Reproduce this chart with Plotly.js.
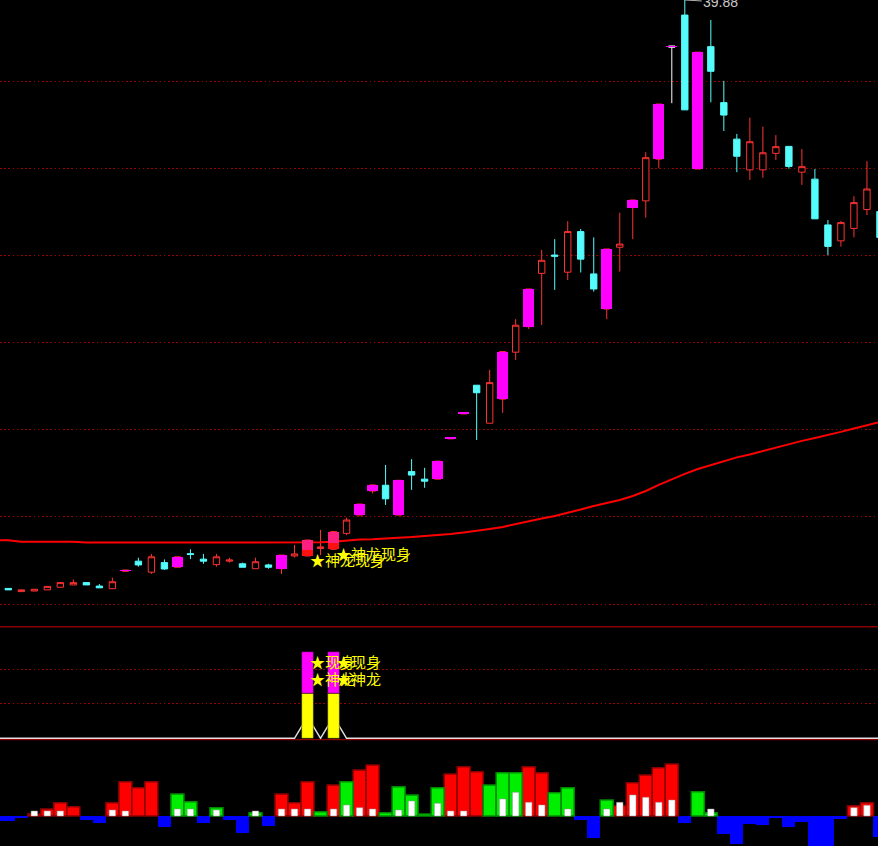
<!DOCTYPE html>
<html>
<head>
<meta charset="utf-8">
<script src="https://cdn.plot.ly/plotly-3.0.1.min.js"></script>
<style>html,body{margin:0;padding:0;background:#000;}#chart{width:878px;height:846px;}</style>
</head>
<body>
<div id="chart"></div>
<script>
// ---- candle data (index, kind, OHLC) ----
const idx = [-1,0,1,2,3,4,5,6,7,8,9,10,11,12,13,14,15,16,17,18,19,20,21,22,23,24,25,26,27,28,29,30,31,32,33,34,35,36,37,38,39,40,41,42,43,44,45,46,47,48,49,50,51,52,53,54,55,56,57,58,59,60,61,62,63,64,65,66,67];
const kind = ['c','c','r','r','r','r','r','c','c','r','m','c','r','c','m','c','c','r','r','c','r','c','m','r','p','r','p','r','m','m','c','m','c','c','m','m','m','c','r','m','r','m','r','c','r','c','c','m','r','m','r','m','w','c','m','c','c','c','r','r','r','c','r','c','c','r','r','r','c'];
const open  = [19.63,19.58,19.47,19.49,19.53,19.62,19.70,19.78,19.66,19.57,20.17,20.52,20.14,20.47,20.31,20.78,20.59,20.40,20.52,20.43,20.26,20.39,20.26,20.70,20.70,20.96,20.93,21.48,22.11,22.94,23.14,22.11,23.61,23.35,23.35,24.74,25.60,26.59,25.28,26.11,27.73,28.61,30.45,31.08,30.49,31.89,30.43,29.22,31.35,32.72,32.95,34.39,38.25,39.36,34.05,38.27,36.34,35.08,34.02,34.02,34.59,34.83,33.94,33.70,32.12,31.57,32.00,32.65,32.58];
const high  = [19.65,19.58,19.53,19.55,19.65,19.78,19.89,19.78,19.73,19.95,20.21,20.64,20.77,20.58,20.67,20.93,20.77,20.77,20.64,20.47,20.64,20.43,20.73,21.08,21.25,21.60,21.54,22.02,22.49,23.15,23.84,23.31,24.04,23.74,23.97,24.78,25.64,26.59,27.12,27.75,28.87,29.91,31.26,31.63,32.25,31.98,31.69,31.29,32.54,32.98,34.63,36.29,38.29,39.88,38.08,39.19,37.09,35.26,35.82,35.51,35.22,34.83,34.74,34.05,32.29,32.26,33.11,34.32,32.81];
const low   = [19.56,19.53,19.47,19.49,19.53,19.62,19.70,19.70,19.60,19.57,20.17,20.33,20.08,20.22,20.31,20.59,20.43,20.33,20.47,20.31,20.26,20.26,20.08,20.65,20.70,20.73,20.93,21.42,22.11,22.86,22.46,22.11,22.98,23.05,23.35,24.74,25.60,24.70,25.28,25.64,27.46,28.53,28.67,29.88,30.22,30.48,29.82,28.87,30.51,31.63,32.37,34.09,36.32,36.09,34.05,36.35,35.36,33.94,33.67,33.75,34.36,34.06,33.50,32.33,31.08,31.37,31.69,32.46,31.69];
const close = [19.58,19.53,19.53,19.55,19.65,19.78,19.78,19.70,19.60,19.81,20.21,20.39,20.67,20.25,20.67,20.75,20.52,20.67,20.56,20.31,20.50,20.31,20.73,20.77,21.25,21.01,21.54,21.94,22.49,23.15,22.67,23.31,23.49,23.28,23.97,24.78,25.64,26.33,26.68,27.75,28.66,29.91,30.90,31.04,31.89,30.94,29.91,31.29,31.46,32.98,34.44,36.29,38.29,36.09,38.08,37.42,35.91,34.49,34.99,34.61,34.82,34.14,34.13,32.33,31.38,32.20,32.89,33.36,31.69];
const splitIdx = [23,25];
const splitVal = [20.91,21.14];
const ma = [21.24,21.24,21.19,21.19,21.19,21.19,21.19,21.16,21.16,21.16,21.16,21.16,21.16,21.16,21.16,21.16,21.16,21.16,21.16,21.16,21.16,21.16,21.16,21.16,21.16,21.17,21.19,21.23,21.27,21.28,21.30,21.34,21.35,21.39,21.42,21.46,21.51,21.56,21.63,21.70,21.80,21.91,21.99,22.08,22.18,22.30,22.42,22.53,22.63,22.77,22.94,23.15,23.35,23.53,23.70,23.84,23.98,24.10,24.20,24.32,24.44,24.56,24.67,24.77,24.87,24.98,25.10,25.22,25.32];
const gridMain = [19.04,22.06,25.06,28.05,31.07,34.05,37.06];
const topLabel = '39.88';
const signalText = '★神龙现身';

// ---- middle panel ----
const sigIdx = [23,25];
const sigYellow = [52,52];
const sigMagenta = [48,48];
const sigLine = [0,0,0,0,0,0,0,0,0,0,0,0,0,0,0,0,0,0,0,0,0,0,0,0,25,0,25,0,0,0,0,0,0,0,0,0,0,0,0,0,0,0,0,0,0,0,0,0,0,0,0,0,0,0,0,0,0,0,0,0,0,0,0,0,0,0,0,0,0];
const gridMid = [40,80];
const midText1 = '★现身';
const midText2 = '★神龙';

// ---- bottom panel ----
const volVal = [-5,-5,-1.7,2,7,13.3,9.3,-4,-6.7,13.3,34.3,28.3,34.3,-11.3,22,14.3,-7.3,8.3,-4,-16.7,3.3,-10,22,13.3,34.3,4.3,31,34.3,46,51,3.3,29.3,21,2,28.3,42,49.3,44.3,31,43.3,43.3,49.3,43.3,23.3,28.3,-4,-21.7,16,10.3,33.3,41,48.3,52,-6.7,24.3,3.3,-18,-28,-8,-9.3,-1.7,-10.7,-5.7,-30,-30,-3.3,10.3,13.3,-20.7];
const volKind = ['b','b','b','r','r','r','r','b','b','r','r','r','r','b','g','g','b','g','b','b','g','b','r','r','r','g','r','g','r','r','g','g','g','g','g','r','r','r','g','g','g','r','r','g','g','b','b','g','r','r','r','r','r','b','g','g','b','b','b','b','b','b','b','b','b','b','r','r','b'];
const volWhite = [0,0,0,5,5,5,0,0,0,6,5,0,0,0,7,7,0,6,0,0,5,0,7,7,7,0,7,11,8.3,7,0,6,15,0,12.7,5,5,0,0,17,23.7,13.7,11,0,7,0,0,7,13.7,21,18.7,13.7,16,0,0,7,0,0,0,0,0,0,0,0,0,0,8.3,10.7,0];

// ---- styles ----
const RED = '#ff3232', CYAN = '#54fcfc', MAG = '#ff00ff', PINK = '#ff1f80';
const H = 846;
const pf = px => 1 - px / H;

function sel(kinds) {
  const out = {x:[],o:[],h:[],l:[],c:[]};
  idx.forEach((j,i) => { if (kinds.includes(kind[i])) { out.x.push(j); out.o.push(open[i]); out.h.push(high[i]); out.l.push(low[i]); out.c.push(close[i]); } });
  return out;
}
function candle(kinds, line, fill) {
  const s = sel(kinds);
  return {type:'candlestick', x:s.x, open:s.o, high:s.h, low:s.l, close:s.c, xaxis:'x', yaxis:'y',
    increasing:{line:{color:line,width:1}, fillcolor:fill}, decreasing:{line:{color:line,width:1}, fillcolor:fill},
    hoverinfo:'skip', showlegend:false};
}
const traces = [];
traces.push(candle(['r','m','p'], RED, '#000000'));
traces.push(candle(['c'], CYAN, CYAN));
traces.push(candle(['w'], '#ffffff', '#000000'));
traces.push({type:'scatter', mode:'lines', x:idx, y:ma, xaxis:'x', yaxis:'y', line:{color:'#ff0000', width:2}, hoverinfo:'skip'});

// magenta bodies on overlay axis
const mb = {x:[],base:[],y:[]};
idx.forEach((j,i) => { if (kind[i]==='m' || kind[i]==='w') { const lo=Math.min(open[i],close[i]); mb.x.push(j); mb.base.push(lo); mb.y.push(Math.max(Math.abs(close[i]-open[i]),0.05)); } });
traces.push({type:'bar', x:mb.x, base:mb.base, y:mb.y, width:0.85, xaxis:'x', yaxis:'y5', marker:{color:MAG, line:{width:0}}, hoverinfo:'skip'});
const pk = {x:[],b1:[],h1:[],b2:[],h2:[]};
splitIdx.forEach((j,k) => { const i = idx.indexOf(j); pk.x.push(j); pk.b1.push(open[i]); pk.h1.push(splitVal[k]-open[i]); pk.b2.push(splitVal[k]); pk.h2.push(close[i]-splitVal[k]); });
traces.push({type:'bar', x:pk.x, base:pk.b1, y:pk.h1, width:0.85, xaxis:'x', yaxis:'y5', marker:{color:'#ff1010', line:{width:0}}, hoverinfo:'skip'});
traces.push({type:'bar', x:pk.x, base:pk.b2, y:pk.h2, width:0.85, xaxis:'x', yaxis:'y5', marker:{color:PINK, line:{width:0}}, hoverinfo:'skip'});

// middle panel
traces.push({type:'scatter', mode:'lines', x:idx, y:sigLine, xaxis:'x', yaxis:'y2', line:{color:'#e0e0e0', width:1.5}, hoverinfo:'skip'});
traces.push({type:'bar', x:sigIdx, y:sigYellow, base:0, width:0.9, xaxis:'x', yaxis:'y4', marker:{color:'#ffff00', line:{color:'#202000', width:0.5}}, hoverinfo:'skip'});
traces.push({type:'bar', x:sigIdx, y:sigMagenta, base:sigYellow, width:0.9, xaxis:'x', yaxis:'y4', marker:{color:MAG, line:{color:'#200020', width:0.5}}, hoverinfo:'skip'});

// bottom panel
function volSel(k) { const x=[],y=[]; idx.forEach((j,i)=>{ if(volKind[i]===k){x.push(j);y.push(volVal[i]);} }); return {x,y}; }
const vb = volSel('b'), vr = volSel('r'), vg = volSel('g');
traces.push({type:'bar', x:vb.x, y:vb.y, width:1.0, xaxis:'x', yaxis:'y3', marker:{color:'#0000ff', line:{width:0}}, hoverinfo:'skip'});
traces.push({type:'bar', x:vr.x, y:vr.y, width:1.0, xaxis:'x', yaxis:'y3', marker:{color:'#ff0000', line:{color:'#8a0000', width:1.5}}, hoverinfo:'skip'});
traces.push({type:'bar', x:vg.x, y:vg.y, width:1.0, xaxis:'x', yaxis:'y3', marker:{color:'#00ee00', line:{color:'#008a00', width:1.5}}, hoverinfo:'skip'});
const vw = {x:[],y:[]}; idx.forEach((j,i)=>{ if(volWhite[i]>0){vw.x.push(j);vw.y.push(volWhite[i]);} });
traces.push({type:'bar', x:vw.x, y:vw.y, width:0.5, xaxis:'x', yaxis:'y3', marker:{color:'#ffffff', line:{color:'#909090', width:0.5}}, hoverinfo:'skip'});

const annotations = [];
sigIdx.forEach(j => {
  const i = idx.indexOf(j);
  annotations.push({x:j, y:low[i], xref:'x', yref:'y', xanchor:'left', yanchor:'middle', yshift:-4, showarrow:false, text:signalText, font:{color:'#ffff00', size:15, family:'Noto Sans CJK SC'}});
  annotations.push({x:j, y:89, xref:'x', yref:'y2', xanchor:'left', yanchor:'middle', showarrow:false, text:midText1, font:{color:'#ffff00', size:15, family:'Noto Sans CJK SC'}});
  annotations.push({x:j, y:68.5, xref:'x', yref:'y2', xanchor:'left', yanchor:'middle', showarrow:false, text:midText2, font:{color:'#ffff00', size:15, family:'Noto Sans CJK SC'}});
});
const topI = high.indexOf(Math.max(...high));
annotations.push({x:idx[topI], y:high[topI], xref:'x', yref:'y', text:topLabel, showarrow:true, arrowhead:0, arrowwidth:1, arrowcolor:'#b0b0b0', ax:36, ay:2, font:{color:'#c8c8c8', size:14, family:'Liberation Sans'}});

const dotted = '1.5px,2.7px';
const layout = {
  width:878, height:846, margin:{l:0,r:0,t:0,b:0,pad:0},
  paper_bgcolor:'#000', plot_bgcolor:'#000', showlegend:false, barmode:'overlay', bargap:0,
  xaxis:{range:[-0.638,66.85], visible:false, showgrid:false, zeroline:false, rangeslider:{visible:false}, fixedrange:true},
  yaxis:{domain:[pf(626.7),1], range:[18.259,39.88], tickvals:gridMain, showticklabels:false, ticks:'', showgrid:true, gridcolor:'#990000', gridwidth:1, griddash:dotted, zeroline:false, showline:false},
  yaxis5:{overlaying:'y', range:[18.259,39.88], visible:false, showgrid:false, zeroline:false},
  yaxis2:{domain:[pf(740),pf(626.7)], range:[-1.96,128.87], tickvals:gridMid, showticklabels:false, ticks:'', showgrid:true, gridcolor:'#990000', gridwidth:1, griddash:dotted, zeroline:false},
  yaxis4:{overlaying:'y2', range:[-1.96,128.87], visible:false, showgrid:false, zeroline:false},
  yaxis3:{domain:[0,pf(740)], range:[-30,76], showticklabels:false, showgrid:false, zeroline:false, ticks:''},
  shapes:[
    {type:'line', xref:'paper', yref:'paper', x0:0, x1:1, y0:pf(626.7), y1:pf(626.7), line:{color:'#8b0000', width:1.5}},
    {type:'line', xref:'paper', yref:'paper', x0:0, x1:1, y0:pf(739.7), y1:pf(739.7), line:{color:'#b00000', width:1}}
  ],
  annotations:annotations
};
Plotly.newPlot('chart', traces, layout, {displayModeBar:false, staticPlot:true});
</script>
</body>
</html>
